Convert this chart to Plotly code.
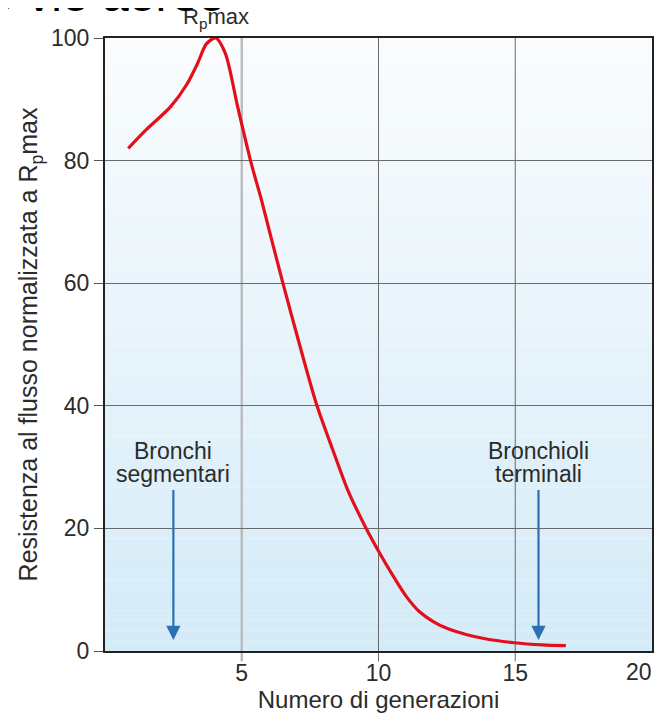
import plotly.graph_objects as go

# Data
generations = [0.85, 1.5, 2.4, 3.0, 3.4, 3.7, 4.05, 4.4, 4.85, 5.35, 5.72, 6.0, 6.5, 7.1,
               7.73, 8.33, 8.9, 9.55, 10.04, 10.5, 11.0, 11.5, 12.0, 12.5, 13.2, 13.9,
               14.96, 16.0, 16.85]
resistance = [82, 85, 88.8, 92.5, 96.0, 99.0, 100, 97.5, 88.8, 79.5, 73.6, 68.7, 60.1, 50.2,
              40.3, 32.8, 26, 20, 16, 12.5, 9.0, 6.4, 4.8, 3.7, 2.7, 2.0,
              1.35, 1.0, 0.87]

x_ticks = [5, 10, 15, 20]
y_ticks = [0, 20, 40, 60, 80, 100]

arrow_labels = ["Bronchi<br>segmentari", "Bronchioli<br>terminali"]
arrow_x = [2.5, 15.85]
arrow_top = [26.5, 26.5]
arrow_bottom = [1.8, 1.8]
label_line_y = [32.6, 28.8]

peak_label = "R<sub>p</sub>max"
peak_x = 4.05

FONT = "Liberation Sans, Arial, Helvetica, sans-serif"
TXT = "#2b2b2b"

fig = go.Figure()
fig.add_trace(go.Scatter(
    x=generations, y=resistance, mode="lines",
    line=dict(color="#e3101c", width=3.2, shape="spline", smoothing=0.8),
    hoverinfo="skip", showlegend=False, cliponaxis=False,
))

shapes = []
# vertical gradient background (white -> light blue)
n = 60
top = (250, 252, 254)
bot = (212, 235, 248)
for i in range(n):
    t = i / (n - 1)
    c = tuple(round(top[k] + (bot[k] - top[k]) * t) for k in range(3))
    shapes.append(dict(type="rect", xref="x domain", yref="y domain",
                       x0=0, x1=1, y0=1 - (i + 1) / n, y1=1 - i / n,
                       fillcolor="rgb(%d,%d,%d)" % c, line=dict(width=0), layer="below"))
# vertical grid lines (the one at 5 is lighter and thicker), extending below the axis
for gx in x_ticks[:-1]:
    light = gx == x_ticks[0]
    shapes.append(dict(type="line", xref="x", yref="paper", x0=gx, x1=gx,
                       y0=-0.017, y1=1,
                       line=dict(color="#b8bcc0" if light else "#6a6a6a",
                                 width=2.4 if light else 1),
                       layer="below"))

annotations = []
for lab, ax_, y0, y1 in zip(arrow_labels, arrow_x, arrow_top, arrow_bottom):
    annotations.append(dict(x=ax_, y=y1, ax=ax_, ay=y0, xref="x", yref="y", axref="x", ayref="y",
                            showarrow=True, arrowhead=2, arrowsize=1.3, arrowwidth=2.2,
                            arrowcolor="#2a70b3", text=""))
    for line_text, ly in zip(lab.split("<br>"), label_line_y):
        annotations.append(dict(x=ax_, y=ly, xref="x", yref="y", text=line_text, showarrow=False,
                                font=dict(family=FONT, size=23, color=TXT), align="center",
                                yanchor="middle"))
annotations.append(dict(x=peak_x, y=1.0, xref="x", yref="paper", text=peak_label,
                        showarrow=False, yanchor="bottom", yshift=4,
                        font=dict(family=FONT, size=22, color=TXT)))
annotations.append(dict(x=-0.258, y=1.0, xref="paper", yref="paper", text="lle vie aeree",
                        showarrow=False, xanchor="left", yanchor="bottom", yshift=15,
                        font=dict(family=FONT, size=48, color="#000000")))
# last x tick label, right-aligned to the frame so it is not cut by the page edge
annotations.append(dict(x=x_ticks[-1], y=0, xref="x", yref="paper", text=str(x_ticks[-1]),
                        showarrow=False, xanchor="right", yanchor="middle", xshift=2, yshift=-21,
                        font=dict(family=FONT, size=23, color=TXT)))

fig.update_layout(
    width=655, height=705,
    margin=dict(l=97, r=11, t=30, b=62, autoexpand=False),
    paper_bgcolor="white", plot_bgcolor="rgba(0,0,0,0)",
    font=dict(family=FONT, color=TXT),
    shapes=shapes, annotations=annotations,
    xaxis=dict(range=[0, 20], tickvals=x_ticks[:-1], showgrid=False, automargin=False,
               zeroline=False, showline=True, linecolor="#222", linewidth=2, mirror=True,
               ticks="", tickfont=dict(size=23, color=TXT),
               title=dict(text="Numero di generazioni", font=dict(size=24, color=TXT), standoff=2)),
    yaxis=dict(range=[0, 100], tickvals=y_ticks, showgrid=True, gridcolor="#6a6a6a", gridwidth=1,
               automargin=False, ticklabeloverflow="allow",
               zeroline=False, showline=True, linecolor="#222", linewidth=2, mirror=True,
               ticks="outside", ticklen=9, tickcolor="#555", tickwidth=1,
               tickfont=dict(size=23, color=TXT),
               title=dict(text="Resistenza al flusso normalizzata a R<sub>p</sub>max",
                          font=dict(size=25, color=TXT), standoff=6)),
)

fig.write_html("out.html")
